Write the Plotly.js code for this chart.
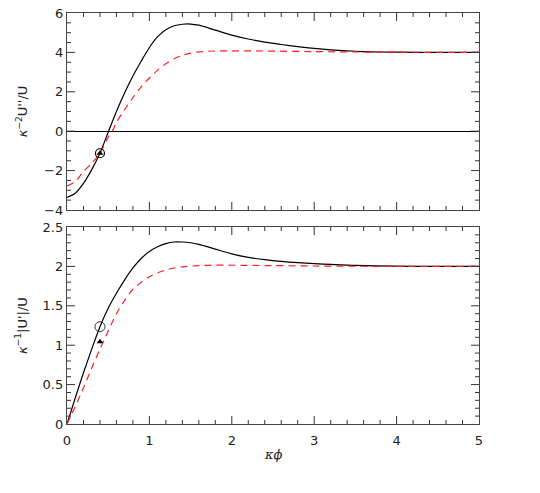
<!DOCTYPE html>
<html>
<head>
<meta charset="utf-8">
<script src="https://cdn.plot.ly/plotly-3.0.1.min.js"></script>
<style>
  body { margin: 0; background: #fff; }
  #chart { width: 540px; height: 493px; }
</style>
</head>
<body>
<div id="chart"></div>
<script>
// curves

// top panel: kappa^-2 U''/U
var xTopBlack = [0, 0.1, 0.2, 0.3, 0.4, 0.5, 0.6, 0.7, 0.8, 0.9, 1.0, 1.1, 1.2, 1.3, 1.4, 1.5, 1.6, 1.8, 2.0, 2.2, 2.4, 2.6, 2.8, 3.0, 3.2, 3.4, 3.6, 3.8, 4.0, 4.5, 5.0];
var yTopBlack = [-3.36, -3.15, -2.65, -1.95, -1.12, -0.05, 1.0, 1.95, 2.8, 3.55, 4.25, 4.8, 5.15, 5.35, 5.43, 5.44, 5.38, 5.13, 4.88, 4.68, 4.52, 4.4, 4.29, 4.2, 4.13, 4.08, 4.04, 4.02, 4.01, 4.0, 4.0];

var xTopRed = [0, 0.1, 0.2, 0.3, 0.4, 0.5, 0.55, 0.6, 0.7, 0.8, 0.9, 1.0, 1.1, 1.2, 1.3, 1.4, 1.5, 1.6, 1.8, 2.0, 2.4, 3.0, 3.5, 4.0, 5.0];
var yTopRed = [-2.78, -2.55, -2.05, -1.62, -1.12, -0.3, 0.0, 0.45, 1.1, 1.7, 2.25, 2.7, 3.1, 3.42, 3.68, 3.85, 3.96, 4.03, 4.07, 4.08, 4.07, 4.04, 4.02, 4.01, 4.0];

// bottom panel: kappa^-1 |U'|/U
var xBotBlack = [0, 0.1, 0.2, 0.3, 0.4, 0.5, 0.6, 0.7, 0.8, 0.9, 1.0, 1.1, 1.2, 1.3, 1.4, 1.5, 1.6, 1.8, 2.0, 2.2, 2.4, 2.6, 2.8, 3.0, 3.2, 3.5, 4.0, 4.5, 5.0];
var yBotBlack = [0, 0.33, 0.65, 0.95, 1.235, 1.47, 1.66, 1.83, 1.98, 2.1, 2.19, 2.25, 2.29, 2.31, 2.31, 2.3, 2.28, 2.22, 2.16, 2.115, 2.085, 2.063, 2.047, 2.035, 2.025, 2.012, 2.004, 2.0, 2.0];

var xBotRed = [0, 0.1, 0.2, 0.3, 0.4, 0.5, 0.6, 0.7, 0.8, 0.9, 1.0, 1.1, 1.2, 1.3, 1.4, 1.6, 1.8, 2.0, 2.5, 3.0, 4.0, 5.0];
var yBotRed = [0, 0.22, 0.46, 0.71, 0.95, 1.18, 1.4, 1.57, 1.71, 1.8, 1.87, 1.92, 1.955, 1.98, 1.995, 2.01, 2.015, 2.015, 2.01, 2.005, 2.0, 2.0];

// marked points
var xMark = [0.4];
var yTopCircle = [-1.12];
var yTopTri = [-1.12];
var yBotCircle = [1.235];
var yBotTri = [1.045];

var red = "#ff2020";

var traces = [
  {x: xTopBlack, y: yTopBlack, xaxis: "x2", yaxis: "y2", mode: "lines",
   line: {color: "black", width: 1.2, shape: "spline", smoothing: 0.8}},
  {x: xTopRed, y: yTopRed, xaxis: "x2", yaxis: "y2", mode: "lines",
   line: {color: red, width: 1.2, dash: "7px,5px", shape: "spline", smoothing: 0.8}},
  {x: xMark, y: yTopCircle, xaxis: "x2", yaxis: "y2", mode: "markers",
   marker: {symbol: "circle-open", size: 9, color: "black", line: {width: 1.2}}},
  {x: xMark, y: yTopTri, xaxis: "x2", yaxis: "y2", mode: "markers",
   marker: {symbol: "triangle-up", size: 6, color: "black"}},

  {x: xBotBlack, y: yBotBlack, mode: "lines",
   line: {color: "black", width: 1.2, shape: "spline", smoothing: 0.8}},
  {x: xBotRed, y: yBotRed, mode: "lines",
   line: {color: red, width: 1.2, dash: "7px,5px", shape: "spline", smoothing: 0.8}},
  {x: xMark, y: yBotCircle, mode: "markers",
   marker: {symbol: "circle-open", size: 10, color: "#333", line: {width: 1}}},
  {x: xMark, y: yBotTri, mode: "markers",
   marker: {symbol: "triangle-up", size: 6, color: "black"}}
];

var frame = "#333";
var panelW = 412, panelH = 197;   // plot area size in px, used for tick lengths

// inward ticks on all four sides, drawn as shapes on the axis scales
function xTicks(xref, yref, lo, hi, minorStep, majorStep) {
  var out = [];
  var n = Math.round((hi - lo) / minorStep);
  for (var i = 1; i < n; i++) {
    var v = lo + i * minorStep;
    var major = Math.abs(v / majorStep - Math.round(v / majorStep)) < 1e-6;
    var f = (major ? 8 : 4) / panelH;
    out.push({type: "line", xref: xref, yref: yref + " domain", x0: v, x1: v, y0: 0, y1: f,
              line: {color: frame, width: 1}, layer: "above"});
    out.push({type: "line", xref: xref, yref: yref + " domain", x0: v, x1: v, y0: 1, y1: 1 - f,
              line: {color: frame, width: 1}, layer: "above"});
  }
  return out;
}
function yTicks(xref, yref, lo, hi, minorStep, majorStep) {
  var out = [];
  var n = Math.round((hi - lo) / minorStep);
  for (var i = 1; i < n; i++) {
    var v = lo + i * minorStep;
    var major = Math.abs(v / majorStep - Math.round(v / majorStep)) < 1e-6;
    var f = (major ? 8 : 4) / panelW;
    out.push({type: "line", xref: xref + " domain", yref: yref, x0: 0, x1: f, y0: v, y1: v,
              line: {color: frame, width: 1}, layer: "above"});
    out.push({type: "line", xref: xref + " domain", yref: yref, x0: 1, x1: 1 - f, y0: v, y1: v,
              line: {color: frame, width: 1}, layer: "above"});
  }
  return out;
}
var shapes = [].concat(
  xTicks("x", "y", 0, 5, 0.2, 1),
  xTicks("x2", "y2", 0, 5, 0.2, 1),
  yTicks("x", "y", 0, 2.5, 0.1, 0.5),
  yTicks("x2", "y2", -4, 6, 0.5, 2)
);

function axis(extra) {
  var a = {showline: true, linecolor: "#444", linewidth: 1.3, mirror: true,
    ticks: "", showgrid: false, zeroline: false,
    tickfont: {family: "DejaVu Sans", size: 13, color: "#222"}};
  for (var k in extra) a[k] = extra[k];
  return a;
}

// axis titles as paper annotations
var titleFont = {family: "DejaVu Sans", size: 13, color: "#222"};
var annotations = [
  {text: "<i>κ</i><sup>−2</sup>U''/U", xref: "paper", yref: "paper", x: -0.11, y: 0.76,
   textangle: -90, showarrow: false, xanchor: "center", yanchor: "middle", font: titleFont},
  {text: "<i>κ</i><sup>−1</sup>|U'|/U", xref: "paper", yref: "paper", x: -0.11, y: 0.24,
   textangle: -90, showarrow: false, xanchor: "center", yanchor: "middle", font: titleFont},
  {text: "<i>κϕ</i>", xref: "paper", yref: "paper", x: 0.5, y: -0.075,
   showarrow: false, xanchor: "center", yanchor: "middle",
   font: {family: "DejaVu Serif", size: 13, color: "#222"}}
];

var layout = {
  width: 540, height: 493,
  margin: {l: 67, r: 61, t: 13, b: 69},
  showlegend: false,
  paper_bgcolor: "white", plot_bgcolor: "white",
  font: {family: "DejaVu Sans", color: "#222"},
  annotations: annotations,
  shapes: shapes,
  xaxis: axis({range: [0, 5], dtick: 1, anchor: "y", ticklabelstandoff: 4}),
  yaxis: axis({range: [0, 2.5], dtick: 0.5, domain: [0, 0.4793], anchor: "x"}),
  xaxis2: axis({range: [0, 5], dtick: 1, anchor: "y2", matches: "x", showticklabels: false}),
  yaxis2: axis({range: [-4, 6], dtick: 2, domain: [0.5207, 1], anchor: "x2",
    zeroline: true, zerolinecolor: "black", zerolinewidth: 1})
};

Plotly.newPlot("chart", traces, layout, {displayModeBar: false});
</script>
</body>
</html>
